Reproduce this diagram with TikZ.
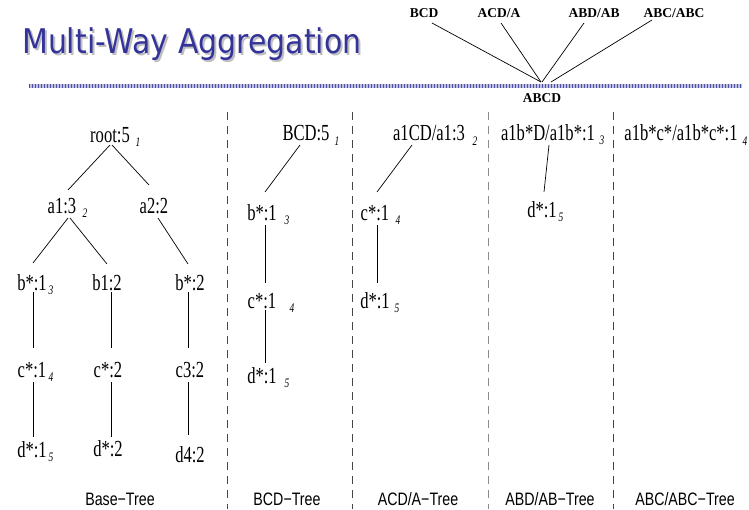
\documentclass[tikz,border=0pt]{standalone}
\usepackage{fontspec}
\setmainfont{Liberation Serif}
\newfontfamily\nserif[FakeStretch=0.72]{Liberation Serif}
\newfontfamily\nsans[FakeStretch=0.79]{Liberation Sans}
\newfontfamily\titlefont[FakeStretch=0.88]{DejaVu Sans}
\usetikzlibrary{calc}
\definecolor{titleblue}{RGB}{51,51,153}
\definecolor{bandlight}{RGB}{190,190,225}
\definecolor{banddark}{RGB}{80,80,165}
\definecolor{sepdark}{RGB}{70,70,70}
\definecolor{seplight}{RGB}{140,140,140}
\begin{document}
\begin{tikzpicture}[x=1pt,y=-1pt,
  tn/.style={font=\nserif\fontsize{23}{23}\selectfont, inner sep=0pt, anchor=base},
  sb/.style={font=\nserif\itshape\fontsize{13}{13}\selectfont, inner sep=0pt, anchor=base},
  lab/.style={font=\nsans\fontsize{18}{18}\selectfont, inner sep=0pt, anchor=base},
  top/.style={font=\bfseries\fontsize{13.5}{13.5}\selectfont, inner sep=0pt, anchor=base},
  edge/.style={draw=black, line width=0.7pt},
  sep/.style={line width=0.8pt, dash pattern=on 8pt off 6pt}
]
\useasboundingbox (0,0) rectangle (749,509);

% title
\node[font=\titlefont\fontsize{34}{34}\selectfont, text=black!25, inner sep=0pt, anchor=base west] (titleshadow) at (24,55) {Multi-Way Aggregation};
\node[font=\titlefont\fontsize{34}{34}\selectfont, text=titleblue, inner sep=0pt, anchor=base west] (title) at (22,53) {Multi-Way Aggregation};

% band
\draw[bandlight, line width=4pt] (29,85.5) -- (742,85.5);
\draw[banddark, line width=4pt, dash pattern=on 1.2pt off 1.8pt] (29,85.5) -- (742,85.5);

% top lattice
\node[top] (bcdT) at (424,17) {BCD};
\node[top] (acdT) at (499,17) {ACD/A};
\node[top] (abdT) at (594,17) {ABD/AB};
\node[top] (abcT) at (674,17) {ABC/ABC};
\node[top] (abcdT) at (542,102) {ABCD};
\draw[edge] ($(bcdT.base)+(8,6)$) -- ($(abcdT.base)+(-1,-20)$);
\draw[edge] ($(acdT.base)+(2,6)$) -- ($(abcdT.base)+(-1,-20)$);
\draw[edge] ($(abdT.base)+(-10,6)$) -- ($(abcdT.base)+(0,-20)$);
\draw[edge] ($(abcT.base)+(-22,3)$) -- ($(abcdT.base)+(9,-20)$);

% separators
\draw[sep, sepdark] (227,112) -- (227,509);
\draw[sep, sepdark] (352,112) -- (352,509);
\draw[sep, seplight] (488,112) -- (488,509);
\draw[sep, sepdark] (613,112) -- (613,509);

% Base tree
\node[tn] (root) at (110,142) {root:5};
\node[sb] (rootS) at (138,146) {1};
\node[tn] (a1) at (62,213) {a1:3};
\node[sb] (a1S) at (85,217) {2};
\node[tn] (a2) at (154,213) {a2:2};
\node[tn] (bs1) at (32,290) {b*:1};
\node[sb] (bs1S) at (51,294) {3};
\node[tn] (b12) at (107,290) {b1:2};
\node[tn] (bs2) at (190,290) {b*:2};
\node[tn] (cs1) at (32,377) {c*:1};
\node[sb] (cs1S) at (51,381) {4};
\node[tn] (cs2) at (108,377) {c*:2};
\node[tn] (c32) at (190,377) {c3:2};
\node[tn] (ds1) at (32,457) {d*:1};
\node[sb] (ds1S) at (51,461) {5};
\node[tn] (ds2) at (108,456) {d*:2};
\node[tn] (d42) at (190,462) {d4:2};

\draw[edge] ($(root.base)+(0,3)$) -- ($(a1.base)+(6,-23)$);
\draw[edge] ($(root.base)+(2,3)$) -- ($(a2.base)+(-5,-28)$);
\draw[edge] ($(a1.base)+(6,5)$) -- ($(bs1.base)+(1,-27)$);
\draw[edge] ($(a1.base)+(8,5)$) -- ($(b12.base)+(0,-26)$);
\draw[edge] ($(a2.base)+(4,5)$) -- ($(bs2.base)+(-2,-26)$);
\draw[edge] ($(bs1.base)+(1,2)$) -- ($(cs1.base)+(1,-29)$);
\draw[edge] ($(b12.base)+(4,2)$) -- ($(cs2.base)+(3,-29)$);
\draw[edge] ($(bs2.base)+(-2,2)$) -- ($(c32.base)+(-2,-29)$);
\draw[edge] ($(cs1.base)+(1,5)$) -- ($(ds1.base)+(1,-20)$);
\draw[edge] ($(cs2.base)+(3,5)$) -- ($(ds2.base)+(3,-19)$);
\draw[edge] ($(c32.base)+(-2,5)$) -- ($(d42.base)+(-2,-27)$);

% BCD tree
\node[tn] (bcd) at (306,140) {BCD:5};
\node[sb] (bcdS) at (337,145) {1};
\node[tn] (bb) at (262,220) {b*:1};
\node[sb] (bbS) at (287,224) {3};
\node[tn] (bc) at (262,308) {c*:1};
\node[sb] (bcS) at (292,312) {4};
\node[tn] (bd) at (262,383) {d*:1};
\node[sb] (bdS) at (287,387) {5};
\draw[edge] ($(bcd.base)+(-6,5)$) -- ($(bb.base)+(3,-28)$);
\draw[edge] ($(bb.base)+(3,5)$) -- ($(bc.base)+(3,-25)$);
\draw[edge] ($(bc.base)+(3,2)$) -- ($(bd.base)+(3,-20)$);

% ACD/A tree
\node[tn] (acd) at (429,140) {a1CD/a1:3};
\node[sb] (acdS) at (475,145) {2};
\node[tn] (ac) at (375,220) {c*:1};
\node[sb] (acS) at (398,224) {4};
\node[tn] (ad) at (375,308) {d*:1};
\node[sb] (adS) at (397,312) {5};
\draw[edge] ($(acd.base)+(-17,5)$) -- ($(ac.base)+(2,-28)$);
\draw[edge] ($(ac.base)+(2,5)$) -- ($(ad.base)+(2,-25)$);

% ABD/AB tree
\node[tn] (abd) at (548,140) {a1b*D/a1b*:1};
\node[sb] (abdS) at (602,144) {3};
\node[tn] (abdd) at (542,217) {d*:1};
\node[sb] (abddS) at (561,221) {5};
\draw[edge] ($(abd.base)+(1,5)$) -- ($(abdd.base)+(2,-25)$);

% ABC/ABC tree
\node[tn] (abc) at (681,140) {a1b*c*/a1b*c*:1};
\node[sb] (abcS) at (745,145) {4};

% labels
\node[lab] (l1) at (120,505) {Base−Tree};
\node[lab] (l2) at (287,505) {BCD−Tree};
\node[lab] (l3) at (418,505) {ACD/A−Tree};
\node[lab] (l4) at (550,505) {ABD/AB−Tree};
\node[lab] (l5) at (685,505) {ABC/ABC−Tree};
\end{tikzpicture}
\end{document}
